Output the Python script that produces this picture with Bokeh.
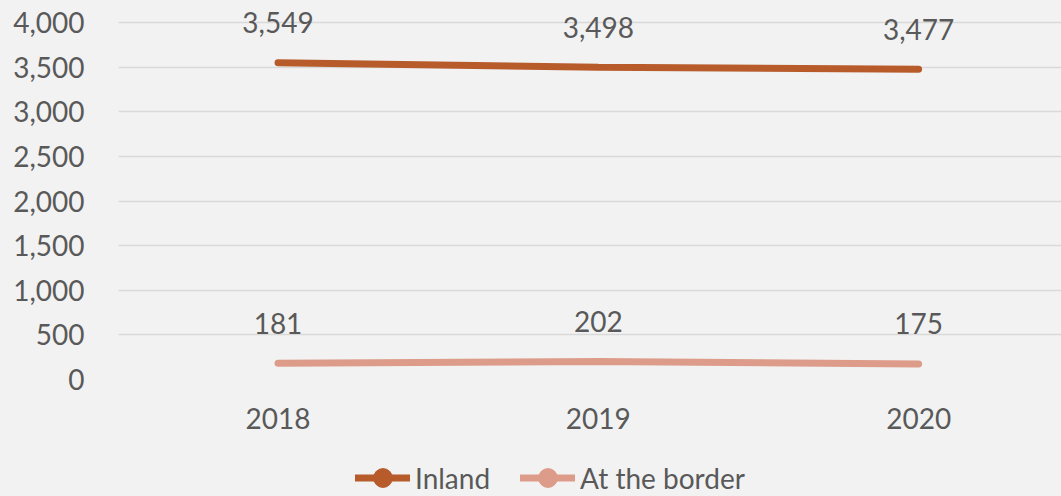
from bokeh.plotting import figure
from bokeh.layouts import column
from bokeh.models import (ColumnDataSource, Range1d, FixedTicker, NumeralTickFormatter,
                          LabelSet, Legend, LegendItem)
from bokeh.core.properties import value
from bokeh.embed import file_html
from bokeh.resources import INLINE

years = [2018, 2019, 2020]
inland = [3549, 3498, 3477]
border = [181, 202, 175]
series_names = ["Inland", "At the border"]

INLAND_C = "#b85b2b"
BORDER_C = "#dd9c8a"
TXT = "#595959"
BG = "#f2f2f2"
FONT = "Lato"
FS = "28px"

# frame top at the page top; y range extended so 4,000 sits 22px below it
p = figure(width=1061, height=440, output_backend="svg", toolbar_location=None,
           x_range=Range1d(2017.502, 2020.446), y_range=Range1d(0, 4000 + 22 * 4000 / 357),
           min_border_left=118, min_border_right=0, min_border_top=0, min_border_bottom=61)
p.background_fill_color = BG
p.border_fill_color = BG
p.outline_line_color = None

src = ColumnDataSource(dict(x=years, inland=inland, border=border,
                            inland_lbl=[f"{v:,}" for v in inland],
                            border_lbl=[f"{v:,}" for v in border]))

p.line("x", "inland", source=src, line_color=INLAND_C, line_width=7, line_cap="round")
p.line("x", "border", source=src, line_color=BORDER_C, line_width=7, line_cap="round")

for col, lbl in (("inland", "inland_lbl"), ("border", "border_lbl")):
    ls = LabelSet(x="x", y=col, text=lbl, source=src, y_offset=40, text_align="center",
                  text_baseline="middle", text_font=value(FONT), text_font_size=value(FS),
                  text_color=TXT)
    p.add_layout(ls)

p.xaxis.ticker = FixedTicker(ticks=years)
p.yaxis.ticker = FixedTicker(ticks=list(range(0, 4001, 500)))
p.yaxis.formatter = NumeralTickFormatter(format="0,0")
for ax in (p.xaxis, p.yaxis):
    ax.axis_line_color = None
    ax.major_tick_line_color = None
    ax.minor_tick_line_color = None
    ax.major_label_text_font = FONT
    ax.major_label_text_font_size = FS
    ax.major_label_text_color = TXT
p.yaxis.major_label_standoff = 28
p.xaxis.major_label_standoff = 22
p.xgrid.grid_line_color = None
p.ygrid.grid_line_color = "#d9d9d9"
p.ygrid.grid_line_width = 1.5

# legend strip (series drawn from the same data but outside this strip's ranges)
lg = figure(width=1061, height=56, output_backend="svg", toolbar_location=None,
            x_range=Range1d(0, 1), y_range=Range1d(0, 1),
            min_border_left=0, min_border_right=0, min_border_top=0, min_border_bottom=0)
lg.background_fill_color = BG
lg.border_fill_color = BG
lg.outline_line_color = None
lg.axis.visible = False
lg.grid.grid_line_color = None
l1 = lg.line("x", "inland", source=src, line_color=INLAND_C, line_width=7, line_cap="round")
s1 = lg.scatter("x", "inland", source=src, size=19, fill_color=INLAND_C, line_color=INLAND_C)
l2 = lg.line("x", "border", source=src, line_color=BORDER_C, line_width=7, line_cap="round")
s2 = lg.scatter("x", "border", source=src, size=19, fill_color=BORDER_C, line_color=BORDER_C)

legend = Legend(items=[LegendItem(label=series_names[0], renderers=[l1, s1]),
                       LegendItem(label=series_names[1], renderers=[l2, s2])],
                orientation="horizontal", location=(237, -5), padding=0, margin=0,
                spacing=30, label_standoff=5, glyph_width=55, glyph_height=47,
                label_text_font=FONT, label_text_font_size=FS, label_text_color=TXT,
                background_fill_alpha=0, border_line_color=None)
lg.add_layout(legend, "center")

layout = column(p, lg, spacing=0)
layout.styles = {"background-color": BG}
open("out.html", "w").write(file_html(layout, INLINE))
